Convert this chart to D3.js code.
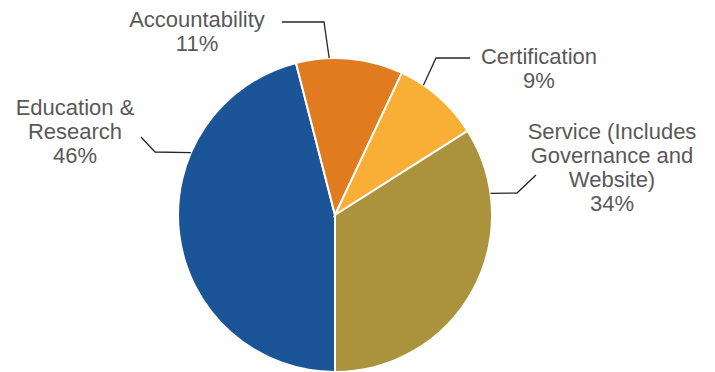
<!DOCTYPE html>
<html>
<head>
<meta charset="utf-8">
<script src="https://cdn.jsdelivr.net/npm/d3@7"></script>
<style>
  body { margin: 0; background: #fff; }
  svg text { font-family: "Liberation Sans", Arial, sans-serif; fill: #595959; }
</style>
</head>
<body>
<svg id="chart" width="715" height="372"></svg>
<script>
// data
var categories = ["Education & Research", "Accountability", "Certification", "Service (Includes Governance and Website)"];
var values = [46, 11, 9, 34];
var labelLines = [
  ["Education &", "Research", "46%"],
  ["Accountability", "11%"],
  ["Certification", "9%"],
  ["Service (Includes", "Governance and", "Website)", "34%"]
];
var colors = ["#1c5597", "#e07b1f", "#f9ae36", "#ab933d"];

var svg = d3.select("#chart");
var cx = 335, cy = 215, r = 157;

var pie = d3.pie().sort(null).value(function(d){ return d; })
  .startAngle(Math.PI).endAngle(3 * Math.PI);
var arcs = pie(values);
var arc = d3.arc().innerRadius(0).outerRadius(r);

var g = svg.append("g").attr("transform", "translate(" + cx + "," + cy + ")");
g.selectAll("path.slice").data(arcs).enter().append("path")
  .attr("class", "slice")
  .attr("d", arc)
  .attr("fill", function(d, i){ return colors[i]; })
  .attr("stroke", "#fff")
  .attr("stroke-width", 2);

// label layout: text center x, first baseline y, elbow point, end of leader,
// a = where along the slice's arc the leader touches
var layout = [
  { tx: 75,  ty: 115, elbow: [155, 152], tail: [141, 137], a: 0.685 },
  { tx: 197, ty: 27,  elbow: [324, 22],  tail: [282, 22],  a: 0.31 },
  { tx: 539, ty: 64,  elbow: [436, 58],  tail: [470, 58],  a: 0.28 },
  { tx: 612, ty: 139, elbow: [517, 193], tail: [536, 175], a: 0.2 }
];

function edgePoint(d, f) {
  var ang = d.startAngle + (d.endAngle - d.startAngle) * f;
  return [cx + r * Math.sin(ang), cy - r * Math.cos(ang)];
}

arcs.forEach(function(d, i) {
  var L = layout[i];
  var p = edgePoint(d, L.a);
  svg.append("polyline")
    .attr("points", [p, L.elbow, L.tail].map(function(q){ return q.join(","); }).join(" "))
    .attr("fill", "none")
    .attr("stroke", "#262626")
    .attr("stroke-width", 1.3);

  var t = svg.append("text")
    .attr("text-anchor", "middle")
    .attr("font-size", 22);
  labelLines[i].forEach(function(line, k) {
    t.append("tspan").attr("x", L.tx).attr("y", L.ty + k * 24).text(line);
  });
});
</script>
</body>
</html>
